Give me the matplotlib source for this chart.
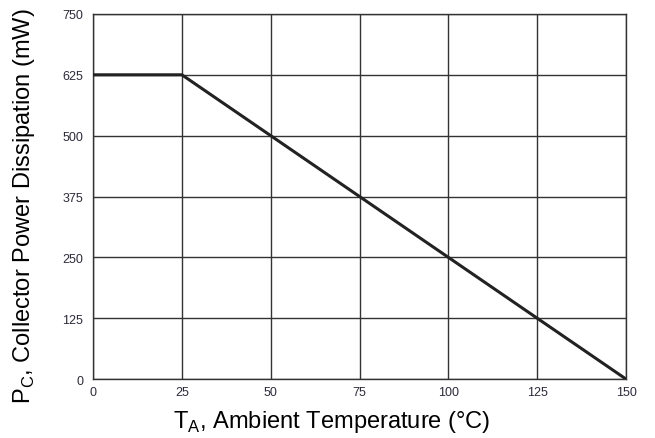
import matplotlib
matplotlib.use("Agg")
import matplotlib.pyplot as plt

plt.rcParams['font.family'] = ['Liberation Sans', 'DejaVu Sans']

# derating curve: ambient temperature (°C) vs collector power dissipation (mW)
temp_c = [0, 25, 150]
power_mw = [625, 625, 0]

x_ticks = [0, 25, 50, 75, 100, 125, 150]
y_ticks = [0, 125, 250, 375, 500, 625, 750]

fig = plt.figure(figsize=(6.55, 4.39), dpi=100)
ax = fig.add_axes([0.142, 0.134, 0.814, 0.832])

ax.plot(temp_c, power_mw, color="#222222", lw=2.2, solid_capstyle="butt", zorder=3)

ax.set_xlim(0, 150)
ax.set_ylim(0, 750)
ax.set_xticks(x_ticks)
ax.set_yticks(y_ticks)
ax.grid(True, color="#333333", lw=1.0)
ax.tick_params(length=0, labelsize=9, colors="#2b2b3a")
ax.tick_params(axis="x", pad=5)
ax.tick_params(axis="y", pad=7)
for s in ax.spines.values():
    s.set_color("#333333")
    s.set_linewidth(1.0)

# axis titles placed to match the original (slightly off-centre)
fig.text(332 / 655, 11 / 439, r"T$_\mathregular{A}$, Ambient Temperature (°C)",
         fontsize=17, ha="center", va="baseline")
fig.text(11 / 655, 1 - 206 / 439, r"P$_\mathregular{C}$, Collector Power Dissipation (mW)",
         fontsize=17, ha="left", va="center", rotation=90)

fig.savefig("out.png", dpi=100)
